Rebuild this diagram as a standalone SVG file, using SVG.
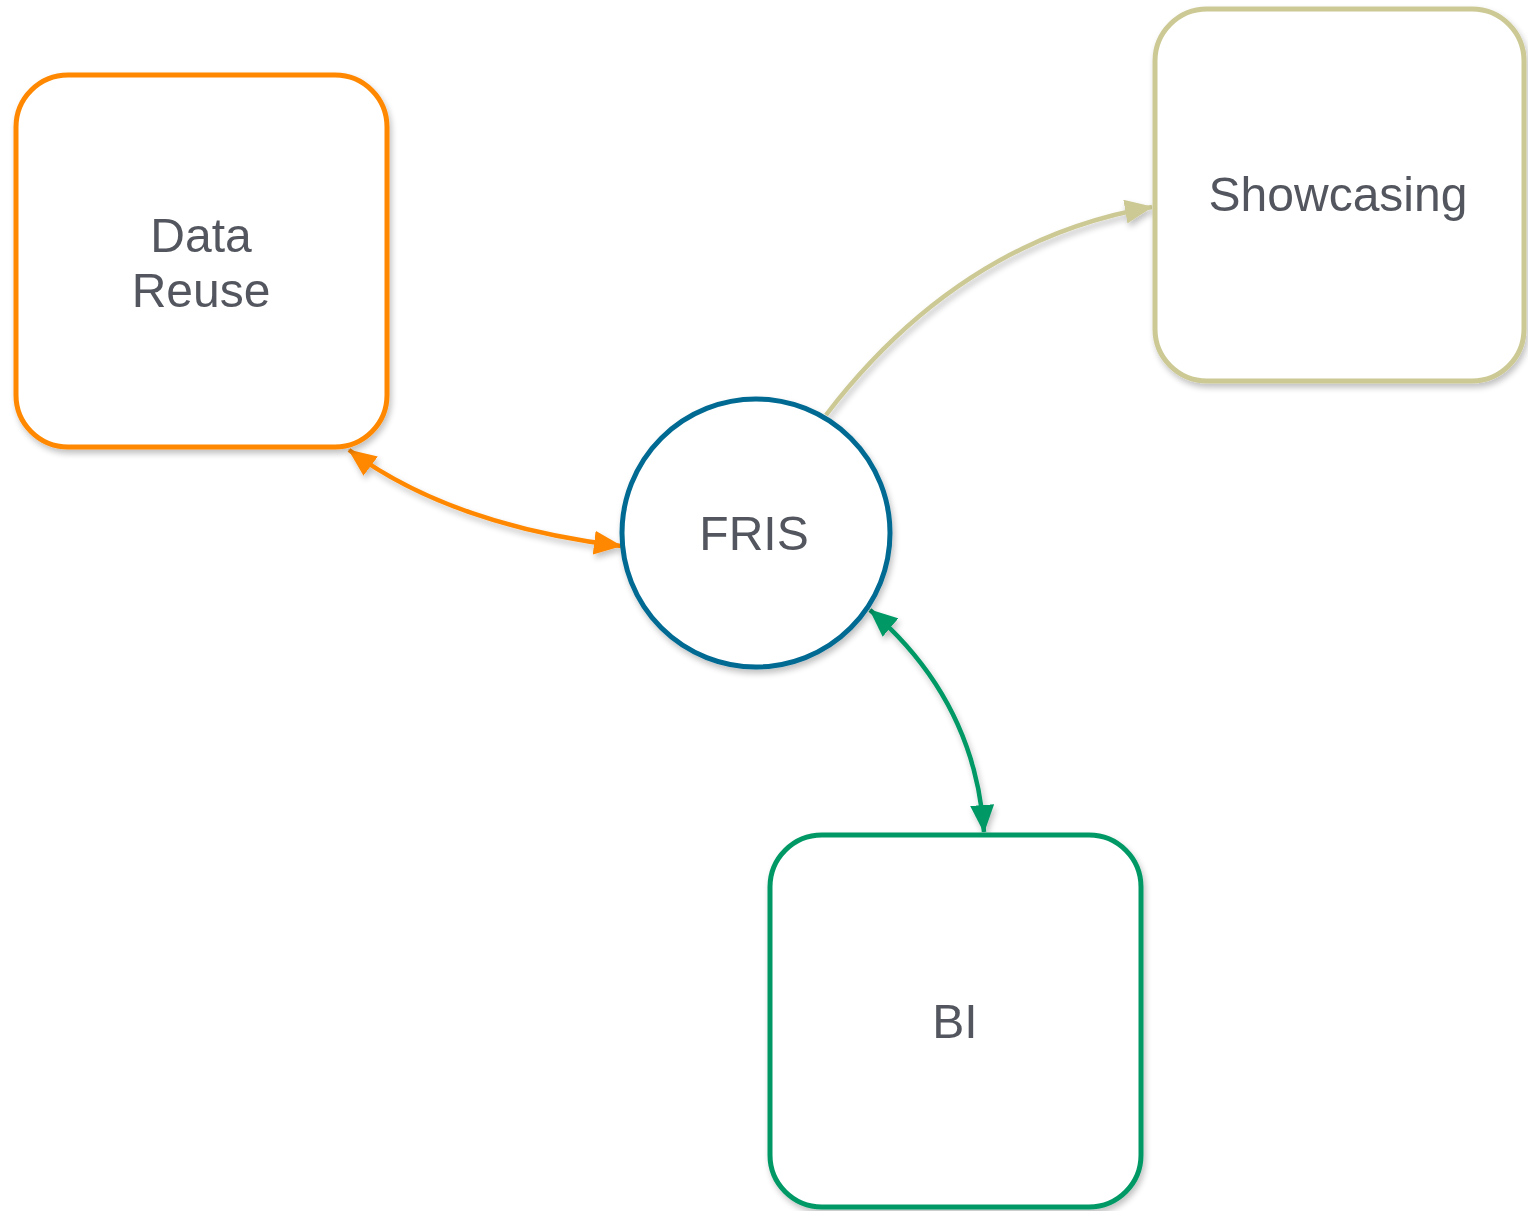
<svg xmlns="http://www.w3.org/2000/svg" width="1528" height="1211" viewBox="0 0 1528 1211">
<style>
.box{fill:#fff;stroke-width:5}
.lbl{font-family:"Liberation Sans",Arial,sans-serif;font-size:48px;fill:#53575E;text-anchor:middle}
.conn{fill:none;stroke-width:4.5}
</style>
<defs>
<filter id="sh" x="-10%" y="-10%" width="130%" height="130%">
<feGaussianBlur in="SourceAlpha" stdDeviation="3"/>
<feOffset dx="2" dy="4"/>
<feComponentTransfer><feFuncA type="linear" slope="0.25"/></feComponentTransfer>
<feMerge><feMergeNode/><feMergeNode in="SourceGraphic"/></feMerge>
</filter>
<marker id="aO" viewBox="0 0 28 24" refX="27" refY="12" markerWidth="28" markerHeight="24" markerUnits="userSpaceOnUse" orient="auto-start-reverse"><path d="M0,0 L28,12 L0,24 Z" fill="#FF8800"/></marker>
<marker id="aK" viewBox="0 0 28 24" refX="27" refY="12" markerWidth="28" markerHeight="24" markerUnits="userSpaceOnUse" orient="auto-start-reverse"><path d="M0,0 L28,12 L0,24 Z" fill="#CCC995"/></marker>
<marker id="aG" viewBox="0 0 28 24" refX="27" refY="12" markerWidth="28" markerHeight="24" markerUnits="userSpaceOnUse" orient="auto-start-reverse"><path d="M0,0 L28,12 L0,24 Z" fill="#009966"/></marker>
</defs>
<rect width="1528" height="1211" fill="#fff"/>
<g id="connectors" filter="url(#sh)">
<path class="conn" d="M349,450 Q450,525 621,546" stroke="#FF8800" marker-start="url(#aO)" marker-end="url(#aO)"/>
<path class="conn" d="M826,415 Q960,240 1152,207" stroke="#CCC995" marker-end="url(#aK)"/>
<path class="conn" d="M870,610 Q975,700 984,832" stroke="#009966" marker-start="url(#aG)" marker-end="url(#aG)"/>
</g>
<g id="data-reuse" filter="url(#sh)">
<rect class="box" x="16" y="75" width="371" height="372" rx="52" stroke="#FF8800"/>
<text class="lbl" x="201" y="252">Data</text>
<text class="lbl" x="201" y="307">Reuse</text>
</g>
<g id="showcasing" filter="url(#sh)">
<rect class="box" x="1155" y="9" width="369" height="372" rx="52" stroke="#CCC995"/>
<text class="lbl" x="1338" y="211">Showcasing</text>
</g>
<g id="fris" filter="url(#sh)">
<circle class="box" cx="756" cy="533" r="134" stroke="#006A93"/>
<text class="lbl" x="754" y="550">FRIS</text>
</g>
<g id="bi" filter="url(#sh)">
<rect class="box" x="770" y="835" width="371" height="372" rx="52" stroke="#009966"/>
<text class="lbl" x="955" y="1038">BI</text>
</g>
</svg>
